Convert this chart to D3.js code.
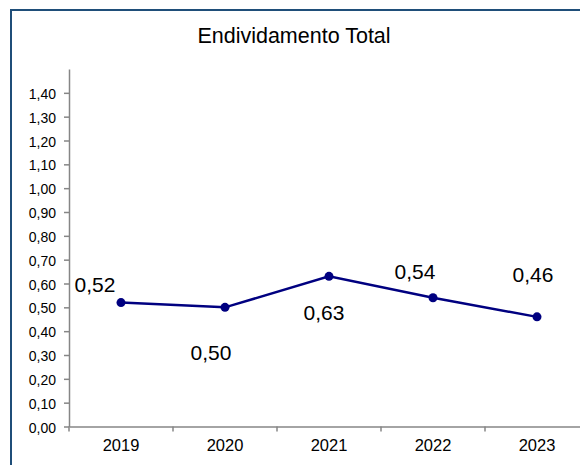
<!DOCTYPE html>
<html>
<head>
<meta charset="utf-8">
<script src="https://cdn.jsdelivr.net/npm/d3@7"></script>
<style>
  html, body { margin: 0; padding: 0; background: #fff; }
  svg { display: block; font-family: Arial, "Liberation Sans", sans-serif; }
  svg .ytick text { font-size: 14px !important; }
  svg .xtick text { font-size: 16.5px !important; }
</style>
</head>
<body>
<script>
const title = "Endividamento Total";
const years = ["2019", "2020", "2021", "2022", "2023"];
const values = [0.52, 0.50, 0.63, 0.54, 0.46];
const yTicks = [0, 0.1, 0.2, 0.3, 0.4, 0.5, 0.6, 0.7, 0.8, 0.9, 1.0, 1.1, 1.2, 1.3, 1.4];
// label placement offsets (px) relative to each point
const labelDx = [-26, -14, -5, -18, -4];
const labelDy = [-11, 53, 44, -19, -35];

const W = 580, H = 465;
const svg = d3.select("body").append("svg").attr("width", W).attr("height", H);

// outer frame
svg.append("rect").attr("x", 11).attr("y", 10).attr("width", 700).attr("height", 600)
  .attr("fill", "none").attr("stroke", "#1f4e79").attr("stroke-width", 2);

const x = d3.scaleBand().domain(years).range([69, 589]).padding(0);
const y = d3.scaleLinear().domain([0, 1.5]).range([426.5, 69]);

const fmt = d => d.toFixed(2).replace(".", ",");
const FF = "Arial, 'Liberation Sans', sans-serif";

// y axis
const ya = svg.append("g").attr("class", "ytick").attr("transform", "translate(69,0)")
  .call(d3.axisLeft(y).tickValues(yTicks).tickFormat(fmt).tickSize(5).tickPadding(8).tickSizeOuter(0));
ya.attr("font-size", 14).attr("font-family", FF);
ya.select(".domain").attr("stroke", "#868686").attr("stroke-width", 1.5);
ya.selectAll(".tick line").attr("stroke", "#868686").attr("stroke-width", 1.5);
ya.selectAll(".tick text").attr("fill", "#000").attr("dy", "0.4em");

// x axis with ticks at category boundaries
const xa = svg.append("g").attr("class", "xtick").attr("transform", `translate(0,${y(0)})`)
  .call(d3.axisBottom(x).tickSize(0).tickPadding(13).tickSizeOuter(0));
xa.attr("font-size", 16.5).attr("font-family", FF);
xa.select(".domain").attr("stroke", "#868686").attr("stroke-width", 1.5);
xa.selectAll(".tick text").attr("fill", "#000");
xa.selectAll(".bound").data(years).enter().append("line")
  .attr("x1", d => x(d)).attr("x2", d => x(d)).attr("y1", 0).attr("y2", 5)
  .attr("stroke", "#868686").attr("stroke-width", 1.5);

// title
svg.append("text").attr("x", 294).attr("y", 43).attr("text-anchor", "middle")
  .style("font-size", "21.5px").attr("fill", "#000").text(title);

const cx = d => x(d) + x.bandwidth() / 2;
const data = years.map((yr, i) => ({ yr, v: values[i], i }));

svg.append("path").datum(data)
  .attr("d", d3.line().x(d => cx(d.yr)).y(d => y(d.v)))
  .attr("fill", "none").attr("stroke", "#000080").attr("stroke-width", 2.5);

svg.selectAll(".pt").data(data).enter().append("circle")
  .attr("cx", d => cx(d.yr)).attr("cy", d => y(d.v)).attr("r", 4.5).attr("fill", "#000080");

svg.selectAll(".lbl").data(data).enter().append("text")
  .attr("x", d => cx(d.yr) + labelDx[d.i]).attr("y", d => y(d.v) + labelDy[d.i])
  .attr("text-anchor", "middle").style("font-size", "21px").attr("fill", "#000")
  .text(d => fmt(d.v));
</script>
</body>
</html>
